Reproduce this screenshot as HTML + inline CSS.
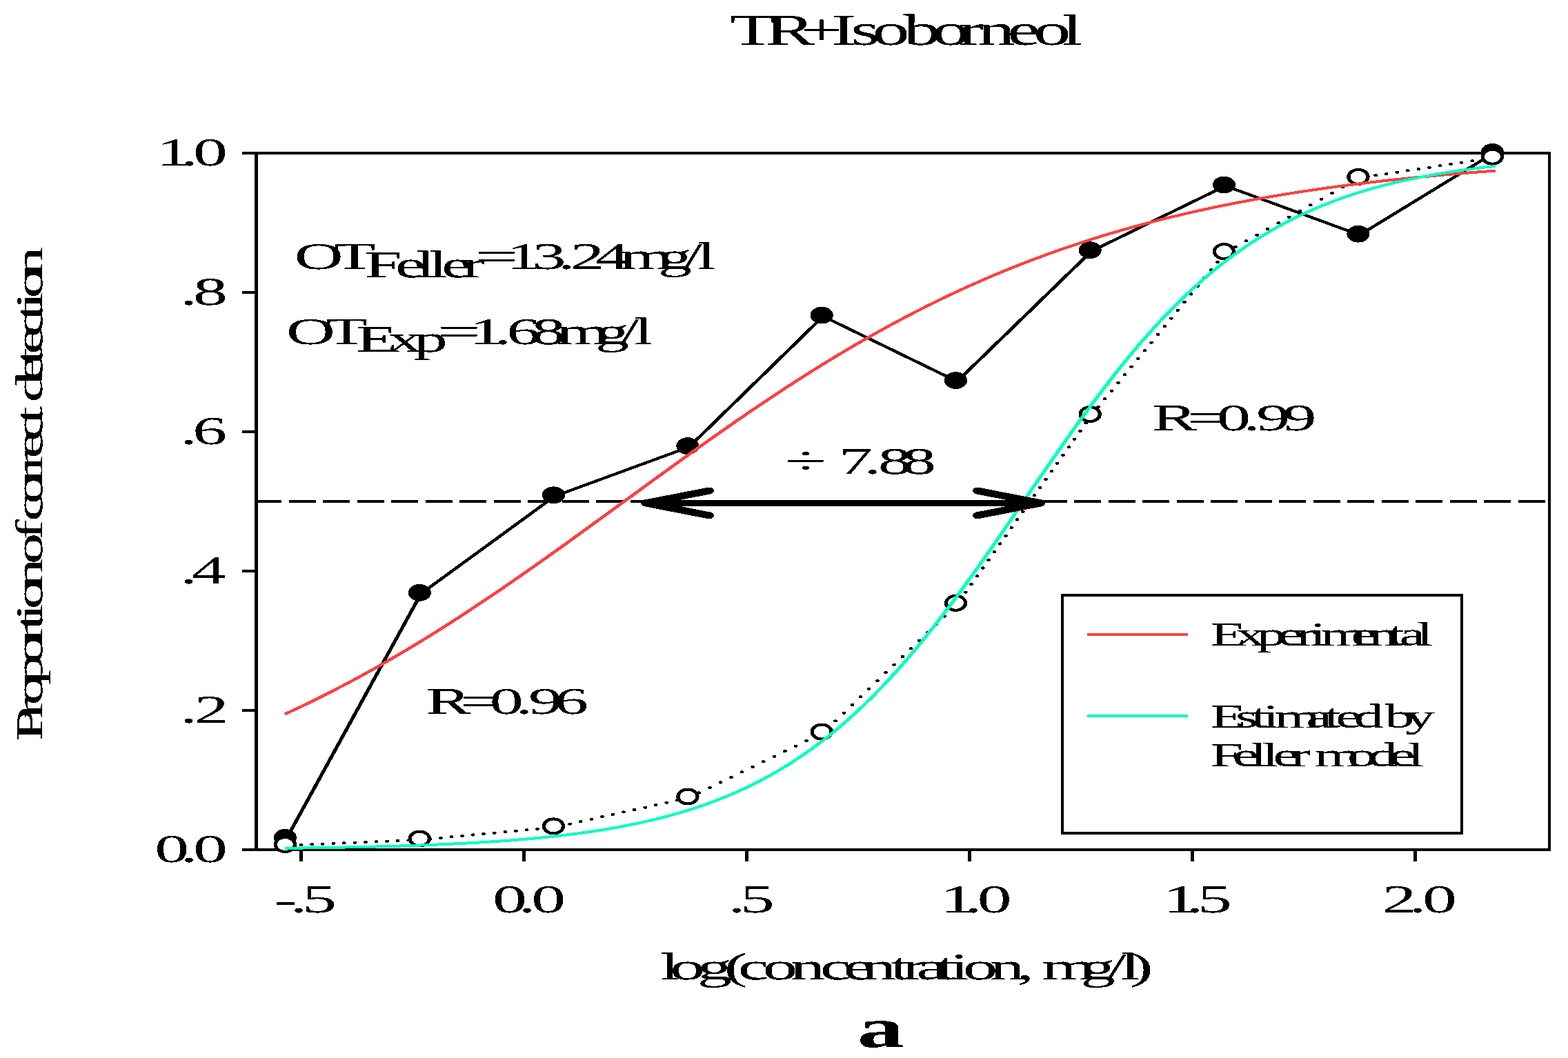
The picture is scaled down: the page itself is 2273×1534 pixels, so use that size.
<!DOCTYPE html>
<html><head><meta charset="utf-8"><title>TR+Isoborneol</title>
<style>html,body{margin:0;padding:0;background:#fff}svg{display:block}</style></head>
<body>
<svg width="2273" height="1534" viewBox="0 0 2273 1534" font-family="'Liberation Serif', serif" fill="#000">
<rect width="2273" height="1534" fill="#fff"/>
<defs><filter id="bin" x="0" y="0" width="100%" height="100%" filterUnits="userSpaceOnUse" primitiveUnits="userSpaceOnUse" color-interpolation-filters="sRGB"><feComponentTransfer><feFuncA type="discrete" tableValues="0 0 1 1 1"/></feComponentTransfer></filter></defs>
<g shape-rendering="crispEdges" fill="#000">
<rect x="351" y="220" width="1897" height="4"/>
<rect x="351" y="1230" width="1897" height="4"/>
<rect x="369" y="220" width="5" height="1014"/>
<rect x="2244" y="220" width="4" height="1014"/>
<rect x="351" y="422" width="20" height="4"/>
<rect x="351" y="624" width="20" height="4"/>
<rect x="351" y="826" width="20" height="4"/>
<rect x="351" y="1028" width="20" height="4"/>
<rect x="434" y="1232" width="5" height="17"/>
<rect x="757" y="1232" width="5" height="17"/>
<rect x="1080" y="1232" width="5" height="17"/>
<rect x="1403" y="1232" width="5" height="17"/>
<rect x="1726" y="1232" width="5" height="17"/>
<rect x="2049" y="1232" width="5" height="17"/>
</g>
<g transform="scale(1.33333,1)" fill="none" stroke="#000" stroke-width="4" shape-rendering="crispEdges">
<path d="M277.12 727H1680.75" stroke-dasharray="29.250 7.875"/>
<polyline transform="translate(1.5,1.5)" points="310.05,1214.30 456.22,859.30 601.80,717.80 747.68,646.60 893.40,457.10 1039.12,551.60 1185.15,362.70 1330.80,268.00 1476.68,339.20 1622.55,220.40"/>
<circle cx="310.05" cy="1214.3" r="12.4" fill="#000" stroke="none"/>
<circle cx="456.22" cy="859.3" r="12.4" fill="#000" stroke="none"/>
<circle cx="601.80" cy="717.8" r="12.4" fill="#000" stroke="none"/>
<circle cx="747.68" cy="646.6" r="12.4" fill="#000" stroke="none"/>
<circle cx="893.40" cy="457.1" r="12.4" fill="#000" stroke="none"/>
<circle cx="1039.12" cy="551.6" r="12.4" fill="#000" stroke="none"/>
<circle cx="1185.15" cy="362.7" r="12.4" fill="#000" stroke="none"/>
<circle cx="1330.80" cy="268" r="12.4" fill="#000" stroke="none"/>
<circle cx="1476.68" cy="339.2" r="12.4" fill="#000" stroke="none"/>
<circle cx="1622.55" cy="220.4" r="12.4" fill="#000" stroke="none"/>
<path transform="translate(1.5,1.5)" stroke-width="4.2" stroke-linecap="round" d="M314.2 1224.3h.01M325.9 1223.6h.01M337.6 1222.9h.01M349.3 1222.2h.01M361.0 1221.5h.01M372.6 1220.9h.01M384.3 1220.2h.01M396.0 1219.5h.01M407.7 1218.8h.01M419.3 1218.1h.01M431.0 1217.5h.01M442.7 1216.8h.01M454.4 1216.1h.01M466.0 1214.8h.01M477.7 1213.3h.01M489.4 1211.9h.01M501.1 1210.4h.01M512.7 1209.0h.01M524.4 1207.5h.01M536.1 1206.1h.01M547.8 1204.6h.01M559.4 1203.2h.01M571.1 1201.7h.01M582.8 1200.3h.01M594.5 1198.8h.01M606.4 1196.5h.01M618.1 1193.1h.01M629.8 1189.7h.01M641.5 1186.2h.01M653.2 1182.8h.01M664.8 1179.4h.01M676.5 1175.9h.01M688.2 1172.5h.01M699.9 1169.1h.01M711.5 1165.6h.01M723.2 1162.2h.01M734.9 1158.8h.01M746.6 1155.3h.01M758.5 1148.0h.01M770.2 1140.5h.01M781.9 1133.0h.01M793.6 1125.4h.01M805.2 1117.9h.01M816.9 1110.4h.01M828.6 1102.9h.01M840.3 1095.3h.01M851.9 1087.8h.01M863.6 1080.3h.01M875.3 1072.8h.01M887.0 1065.2h.01M897.7 1055.6h.01M906.8 1043.9h.01M916.0 1032.2h.01M925.1 1020.5h.01M934.2 1008.8h.01M943.3 997.2h.01M952.4 985.5h.01M961.5 973.8h.01M970.6 962.1h.01M979.8 950.5h.01M988.9 938.8h.01M998.0 927.1h.01M1007.1 915.4h.01M1016.2 903.8h.01M1025.3 892.1h.01M1034.4 880.4h.01M1042.1 868.7h.01M1048.4 857.1h.01M1054.6 845.4h.01M1060.8 833.7h.01M1067.1 822.0h.01M1073.3 810.4h.01M1079.5 798.7h.01M1085.7 787.0h.01M1092.0 775.3h.01M1098.2 763.6h.01M1104.4 752.0h.01M1110.6 740.3h.01M1116.9 728.6h.01M1123.1 716.9h.01M1129.3 705.3h.01M1135.6 693.6h.01M1141.8 681.9h.01M1148.0 670.2h.01M1154.2 658.6h.01M1160.5 646.9h.01M1166.7 635.2h.01M1172.9 623.5h.01M1179.1 611.9h.01M1185.4 600.2h.01M1192.6 588.5h.01M1199.8 576.8h.01M1207.0 565.2h.01M1214.2 553.5h.01M1221.4 541.8h.01M1228.6 530.1h.01M1235.8 518.5h.01M1243.1 506.8h.01M1250.3 495.1h.01M1257.5 483.4h.01M1264.7 471.7h.01M1271.9 460.1h.01M1279.1 448.4h.01M1286.3 436.7h.01M1293.5 425.0h.01M1300.7 413.4h.01M1307.9 401.7h.01M1315.1 390.0h.01M1322.3 378.3h.01M1329.5 366.7h.01M1341.7 356.5h.01M1353.4 347.8h.01M1365.1 339.2h.01M1376.7 330.5h.01M1388.4 321.9h.01M1400.1 313.2h.01M1411.8 304.5h.01M1423.4 295.9h.01M1435.1 287.2h.01M1446.8 278.6h.01M1458.5 269.9h.01M1470.1 261.2h.01M1482.4 255.2h.01M1494.1 252.9h.01M1505.8 250.6h.01M1517.4 248.2h.01M1529.1 245.9h.01M1540.8 243.6h.01M1552.5 241.2h.01M1564.2 238.9h.01M1575.8 236.6h.01M1587.5 234.2h.01M1599.2 231.9h.01M1610.9 229.5h.01M1622.5 227.2h.01"/>
<circle cx="310.05" cy="1224.5" r="10.5" fill="#fff"/>
<circle cx="456.22" cy="1216" r="10.5" fill="#fff"/>
<circle cx="601.80" cy="1197.9" r="10.5" fill="#fff"/>
<circle cx="747.68" cy="1155" r="10.5" fill="#fff"/>
<circle cx="893.40" cy="1061.1" r="10.5" fill="#fff"/>
<circle cx="1039.12" cy="874.4" r="10.5" fill="#fff"/>
<circle cx="1185.15" cy="600.6" r="10.5" fill="#fff"/>
<circle cx="1330.80" cy="364.6" r="10.5" fill="#fff"/>
<circle cx="1476.68" cy="256.4" r="10.5" fill="#fff"/>
<circle cx="1622.55" cy="227.2" r="10.5" fill="#fff"/>
<polyline stroke="#ff4040" stroke-linejoin="round" points="309.75,1035.45 319.15,1029.66 328.55,1023.74 337.96,1017.69 347.36,1011.52 356.76,1005.21 366.16,998.78 375.56,992.23 384.96,985.55 394.37,978.74 403.77,971.81 413.17,964.76 422.57,957.58 431.97,950.29 441.38,942.87 450.78,935.34 460.18,927.70 469.58,919.95 478.98,912.09 488.38,904.12 497.79,896.06 507.19,887.89 516.59,879.63 525.99,871.28 535.39,862.84 544.79,854.32 554.20,845.72 563.60,837.05 573.00,828.31 582.40,819.50 591.80,810.64 601.21,801.72 610.61,792.75 620.01,783.75 629.41,774.70 638.81,765.63 648.21,756.52 657.62,747.40 667.02,738.27 676.42,729.13 685.82,719.99 695.22,710.85 704.62,701.72 714.03,692.61 723.43,683.52 732.83,674.46 742.23,665.43 751.63,656.45 761.04,647.51 770.44,638.62 779.84,629.78 789.24,621.01 798.64,612.30 808.04,603.67 817.45,595.11 826.85,586.63 836.25,578.23 845.65,569.93 855.05,561.71 864.46,553.60 873.86,545.58 883.26,537.67 892.66,529.86 902.06,522.17 911.46,514.58 920.87,507.12 930.27,499.76 939.67,492.53 949.07,485.42 958.47,478.43 967.88,471.56 977.28,464.81 986.68,458.20 996.08,451.71 1005.48,445.34 1014.88,439.10 1024.29,432.99 1033.69,427.01 1043.09,421.16 1052.49,415.43 1061.89,409.83 1071.29,404.35 1080.70,399.00 1090.10,393.77 1099.50,388.67 1108.90,383.69 1118.30,378.83 1127.71,374.09 1137.11,369.47 1146.51,364.96 1155.91,360.58 1165.31,356.30 1174.71,352.14 1184.12,348.08 1193.52,344.14 1202.92,340.30 1212.32,336.57 1221.72,332.94 1231.12,329.41 1240.53,325.98 1249.93,322.65 1259.33,319.41 1268.73,316.27 1278.13,313.22 1287.54,310.25 1296.94,307.38 1306.34,304.59 1315.74,301.88 1325.14,299.25 1334.54,296.71 1343.95,294.24 1353.35,291.84 1362.75,289.52 1372.15,287.27 1381.55,285.09 1390.96,282.98 1400.36,280.94 1409.76,278.95 1419.16,277.04 1428.56,275.18 1437.96,273.38 1447.37,271.64 1456.77,269.96 1466.17,268.33 1475.57,266.75 1484.97,265.22 1494.38,263.74 1503.78,262.32 1513.18,260.93 1522.58,259.60 1531.98,258.31 1541.38,257.06 1550.79,255.85 1560.19,254.68 1569.59,253.55 1578.99,252.46 1588.39,251.40 1597.79,250.38 1607.20,249.40 1616.60,248.45 1626.00,247.53"/>
<polyline stroke="#00ffc0" stroke-linejoin="round" points="309.75,1229.85 319.15,1229.69 328.55,1229.53 337.96,1229.35 347.36,1229.16 356.76,1228.95 366.16,1228.73 375.56,1228.49 384.96,1228.24 394.37,1227.96 403.77,1227.67 413.17,1227.35 422.57,1227.01 431.97,1226.64 441.38,1226.25 450.78,1225.83 460.18,1225.38 469.58,1224.89 478.98,1224.36 488.38,1223.80 497.79,1223.20 507.19,1222.55 516.59,1221.85 525.99,1221.11 535.39,1220.30 544.79,1219.44 554.20,1218.52 563.60,1217.52 573.00,1216.46 582.40,1215.32 591.80,1214.09 601.21,1212.78 610.61,1211.37 620.01,1209.85 629.41,1208.23 638.81,1206.50 648.21,1204.64 657.62,1202.65 667.02,1200.52 676.42,1198.23 685.82,1195.79 695.22,1193.18 704.62,1190.39 714.03,1187.40 723.43,1184.21 732.83,1180.80 742.23,1177.17 751.63,1173.29 761.04,1169.15 770.44,1164.75 779.84,1160.06 789.24,1155.06 798.64,1149.75 808.04,1144.11 817.45,1138.12 826.85,1131.76 836.25,1125.02 845.65,1117.89 855.05,1110.35 864.46,1102.37 873.86,1093.96 883.26,1085.09 892.66,1075.75 902.06,1065.94 911.46,1055.63 920.87,1044.83 930.27,1033.52 939.67,1021.70 949.07,1009.37 958.47,996.53 967.88,983.18 977.28,969.33 986.68,955.00 996.08,940.18 1005.48,924.91 1014.88,909.19 1024.29,893.06 1033.69,876.53 1043.09,859.65 1052.49,842.45 1061.89,824.95 1071.29,807.21 1080.70,789.26 1090.10,771.15 1099.50,752.93 1108.90,734.64 1118.30,716.32 1127.71,698.04 1137.11,679.83 1146.51,661.74 1155.91,643.82 1165.31,626.11 1174.71,608.66 1184.12,591.50 1193.52,574.68 1202.92,558.21 1212.32,542.14 1221.72,526.49 1231.12,511.29 1240.53,496.55 1249.93,482.28 1259.33,468.51 1268.73,455.24 1278.13,442.48 1287.54,430.23 1296.94,418.49 1306.34,407.26 1315.74,396.54 1325.14,386.31 1334.54,376.56 1343.95,367.30 1353.35,358.50 1362.75,350.16 1372.15,342.25 1381.55,334.77 1390.96,327.70 1400.36,321.03 1409.76,314.73 1419.16,308.79 1428.56,303.20 1437.96,297.94 1447.37,293.00 1456.77,288.35 1466.17,283.99 1475.57,279.89 1484.97,276.05 1494.38,272.45 1503.78,269.08 1513.18,265.92 1522.58,262.97 1531.98,260.20 1541.38,257.62 1550.79,255.20 1560.19,252.94 1569.59,250.83 1578.99,248.86 1588.39,247.02 1597.79,245.31 1607.20,243.70 1616.60,242.21 1626.00,240.81"/>
<g stroke-width="10" stroke-linecap="round" stroke-linejoin="round">
<path d="M701.93 729.4H1131.30" stroke-width="8.8"/>
<path d="M771.15 711.5L701.93 729.4L771.15 747.4"/>
<path d="M1062.60 711.5L1131.30 729.4L1062.60 747.4"/>
</g>
</g>
<g shape-rendering="crispEdges">
<rect x="1540" y="863" width="579" height="344.5" fill="#fff" stroke="none"/>
<rect x="1538" y="861" width="583" height="4"/><rect x="1538" y="1206" width="583" height="4"/>
<rect x="1538" y="861" width="4" height="349"/><rect x="2117" y="861" width="4" height="349"/>
<rect x="1576" y="918" width="146" height="4" fill="#ff4040"/>
<rect x="1576" y="1036" width="146" height="4" fill="#00ffc0"/>
</g>
<g filter="url(#bin)">
<text transform="translate(1754.34,936.2) scale(1.7378,1)" font-size="49.2" x="0 21.31 38.76 56.2 71.69 83.31 91.99 117.58 132.17 148.62 157.76 172.36" y="0">Experimental</text>
<text transform="translate(1754.34,1055.1) scale(1.7378,1)" font-size="49.2" x="0 20.94 34.28 43.81 53.34 80 95.22 104.75 119.96 137.11 145.68 162.82" y="0">Estimated by</text>
<text transform="translate(1754.34,1111.3) scale(1.7378,1)" font-size="49.2" x="0 18.75 33.71 43.07 52.43 67.39 78.62 87.05 114.27 131.78 149.28 164.82" y="0">Feller model</text>
<text transform="translate(1058.15,64.6) scale(1.6928,1)" font-size="63.8" x="0 30.21 60.53 86.93 103.45 121.89 148.48 173.35 195.94 212.24 237.5 260.01 284.32" y="0">TR+Isoborneol</text>
<text transform="translate(426.78,389.8) scale(1.7818,1)" font-size="55" x="0 32.24" y="0">OT</text>
<text transform="translate(528.28,401.8) scale(1.7818,1)" font-size="55" x="0 25.08 41.89 52.4 62.92 79.72" y="0">Feller</text>
<text transform="translate(688.65,389.8) scale(2.0273,1)" font-size="55" x="0" y="0">=</text>
<text transform="translate(733.99,389.8) scale(1.7818,1)" font-size="55" x="0 21.03 42.07 52.14 72.29 92.41 123.53 144 155.37" y="0">13.24mg/l</text>
<text transform="translate(414.98,498.6) scale(1.7818,1)" font-size="55" x="0 32.41" y="0">OT</text>
<text transform="translate(516.18,510) scale(1.7818,1)" font-size="55" x="0 25.82 46.95" y="0">Exp</text>
<text transform="translate(633.95,498.6) scale(2.0273,1)" font-size="55" x="0" y="0">=</text>
<text transform="translate(680.39,498.6) scale(1.7818,1)" font-size="55" x="0 20.27 30.4 50.67 70.93 102.46 122.73 133.99" y="0">1.68mg/l</text>
<text transform="translate(1669.98,623.8) scale(1.7818,1)" font-size="55" x="0 28.58 52.75 74.18 84.89 106.32" y="0">R=0.99</text>
<text transform="translate(617.18,1035) scale(1.7818,1)" font-size="55" x="0 28.18 52 73.12 83.68 104.8" y="0">R=0.96</text>
<text transform="translate(1137.63,686.2) scale(2.0000,1)" font-size="55" x="0" y="0">÷</text>
<text transform="translate(1215.64,687.3) scale(1.7818,1)" font-size="55" x="0 20.71 32.12 51.87" y="0">7.88</text>
<text transform="translate(226.85,239.5) scale(1.7786,1)" font-size="56" x="0 19.93 29.89" y="0">1.0</text>
<text transform="translate(261.23,441.5) scale(1.7786,1)" font-size="56" x="0 10.55" y="0">.8</text>
<text transform="translate(261.23,643.5) scale(1.7786,1)" font-size="56" x="0 10.08" y="0">.6</text>
<text transform="translate(261.23,845.5) scale(1.7786,1)" font-size="56" x="0 9.29" y="0">.4</text>
<text transform="translate(261.23,1047.5) scale(1.7786,1)" font-size="56" x="0 11.5" y="0">.2</text>
<text transform="translate(224.21,1249.5) scale(1.7786,1)" font-size="56" x="0 20.91 31.37" y="0">0.0</text>
<text transform="translate(397,1322.5) scale(1.7786,1)" font-size="56" x="0 13.29 23.27" y="0">-.5</text>
<text transform="translate(713.91,1322.5) scale(1.7786,1)" font-size="56" x="0 21.14 31.7" y="0">0.0</text>
<text transform="translate(1055.43,1322.5) scale(1.7786,1)" font-size="56" x="0 9.87" y="0">.5</text>
<text transform="translate(1363.05,1322.5) scale(1.7786,1)" font-size="56" x="0 20.11 30.16" y="0">1.0</text>
<text transform="translate(1686.25,1322.5) scale(1.7786,1)" font-size="56" x="0 18.68 28.03" y="0">1.5</text>
<text transform="translate(2003.62,1322.5) scale(1.7786,1)" font-size="56" x="0 21.88 32.82" y="0">2.0</text>
<text transform="translate(956.93,1419.6) scale(1.8532,1)" font-size="54.5" x="0 7.78 29.05 50.09 60.93 80.25 101.74 125.09 143.44 157.43 180.27 189.46 200.47 216.32 226.53 236.74 257.8 278.93 288.63 298.32 328.74 349.49 360.27 367.57" y="0">log(concentration, mg/l)</text>
<text transform="translate(61.1,1074.49) rotate(-90) scale(1.6364,1)" font-size="55" x="0 19.93 31.86 49.77 68.06 86.34 98.52 106.7 116.88 134.22 149.27 156.79 178.09 187.6 194.74 210.13 227.48 239.03 250.58 265.97 281.36 291.28 300.2 317.81 333.43 342.88 357.96 373.05 382.5 392.48 410.46" y="0">Proportion of correct detection</text>
<text transform="translate(1242.63,1517.6) scale(1.6938,1)" font-size="80" font-weight="bold" x="0" y="0">a</text>
</g>
</svg>
</body></html>
